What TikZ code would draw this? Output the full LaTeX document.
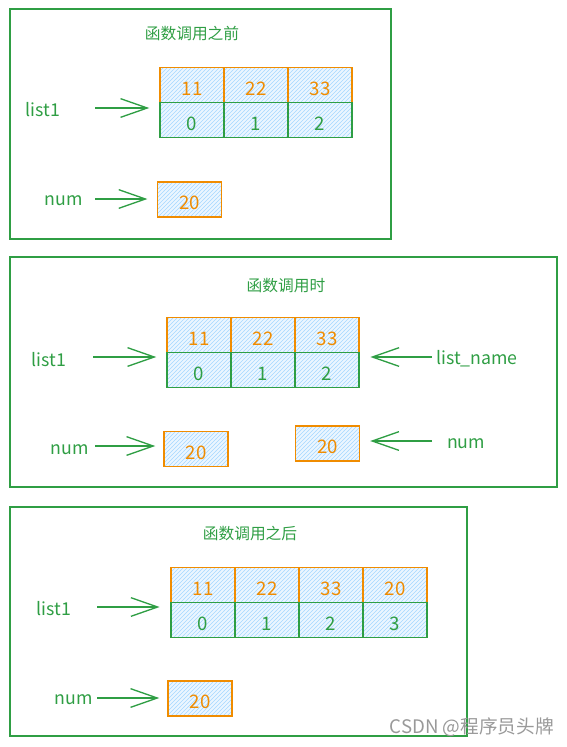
\documentclass[tikz,border=0pt]{standalone}
\usepackage{fontspec}
\setmainfont{Noto Sans CJK SC}
\usetikzlibrary{arrows.meta,patterns}
\usepackage{xcolor}

\definecolor{sketchgreen}{HTML}{2F9E44}
\definecolor{sketchorange}{HTML}{F08C00}
\definecolor{hatchblue}{HTML}{A5D8FF}

\tikzset{
    box/.style={draw=sketchgreen, line width=0.8pt},
    cell/.style={draw, line width=1.1pt, minimum width=48pt, minimum height=26.25pt, inner sep=0pt,
        text height=15.5pt, text depth=0pt,
        preaction={fill=hatchblue!22}, pattern=north east lines, pattern color=hatchblue,
        font=\fontsize{14}{16}\selectfont},
    valcell/.style={cell, draw=sketchorange, text=sketchorange},
    idxcell/.style={cell, draw=sketchgreen, text=sketchgreen},
    heading/.style={text=sketchgreen, font=\fontsize{11.8}{14}\selectfont},
    varname/.style={text=sketchgreen, font=\fontsize{13.3}{15}\selectfont},
    ptr/.style={draw=sketchgreen, line width=1pt, -{Straight Barb[length=20pt,width=14pt]}},
}

\begin{document}
\begin{tikzpicture}[x=0.75pt, y=-0.75pt]
    \useasboundingbox (0,0) rectangle (567,747);

    % before the call
    \draw[box] (10,9) rectangle (391,239);
    \node[heading] (t1) at (192,34) {函数调用之前};
    \node[valcell] (av0) at (192,85) {11};
    \node[valcell] (av1) at (256,85) {22};
    \node[valcell] (av2) at (320,85) {33};
    \node[idxcell] (ai0) at (192,120) {0};
    \node[idxcell] (ai1) at (256,120) {1};
    \node[idxcell] (ai2) at (320,120) {2};
    \node[valcell] (anum) at (189.5,199.5) {20};
    \node[varname] (alist) at (43,110) {list1};
    \node[varname] (aname) at (64,201) {num};
    \coordinate (ap1) at (95,108);
    \coordinate (ap2) at (95,199);
    \draw[ptr, shorten >=7.5pt] (ap1) -- (ap1 -| ai0.west);
    \draw[ptr, shorten >=7pt] (ap2) -- (ap2 -| anum.west);

    % during the call
    \draw[box] (10,257) rectangle (557,487);
    \node[heading] (t2) at (286,286) {函数调用时};
    \node[valcell] (bv0) at (199,335) {11};
    \node[valcell] (bv1) at (263,335) {22};
    \node[valcell] (bv2) at (327,335) {33};
    \node[idxcell] (bi0) at (199,370) {0};
    \node[idxcell] (bi1) at (263,370) {1};
    \node[idxcell] (bi2) at (327,370) {2};
    \node[valcell] (bnum) at (196,449) {20};
    \node[valcell] (bparam) at (327.5,443.5) {20};
    \node[varname] (blist) at (49,360) {list1};
    \node[varname] (bname) at (70,450) {num};
    \node[varname] (bargl) at (477,359) {list\_name};
    \node[varname] (bargn) at (466,444) {num};
    \coordinate (bp1) at (93,357);
    \coordinate (bp2) at (95,446);
    \coordinate (bp3) at (432,357);
    \coordinate (bp4) at (432,441);
    \draw[ptr, shorten >=7.5pt] (bp1) -- (bp1 -| bi0.west);
    \draw[ptr, shorten >=6pt] (bp2) -- (bp2 -| bnum.west);
    \draw[ptr, shorten >=8pt] (bp3) -- (bp3 -| bi2.east);
    \draw[ptr, shorten >=7.5pt] (bp4) -- (bp4 -| bparam.east);

    % after the call
    \draw[box] (10,507) rectangle (467,736);
    \node[heading] (t3) at (250,534) {函数调用之后};
    \node[valcell] (cv0) at (203,585) {11};
    \node[valcell] (cv1) at (267,585) {22};
    \node[valcell] (cv2) at (331,585) {33};
    \node[valcell] (cv3) at (395,585) {20};
    \node[idxcell] (ci0) at (203,620) {0};
    \node[idxcell] (ci1) at (267,620) {1};
    \node[idxcell] (ci2) at (331,620) {2};
    \node[idxcell] (ci3) at (395,620) {3};
    \node[valcell] (cnum) at (200,698.5) {20};
    \node[varname] (clist) at (54,609) {list1};
    \node[varname] (cname) at (74,700) {num};
    \coordinate (cp1) at (97,607);
    \coordinate (cp2) at (97,698);
    \draw[ptr, shorten >=8pt] (cp1) -- (cp1 -| ci0.west);
    \draw[ptr, shorten >=6pt] (cp2) -- (cp2 -| cnum.west);

    % watermark
    \node[anchor=east, inner sep=0pt, text=black!40, font=\fontsize{14}{16}\selectfont] (mark) at (554,727) {CSDN @程序员头牌};
\end{tikzpicture}
\end{document}
